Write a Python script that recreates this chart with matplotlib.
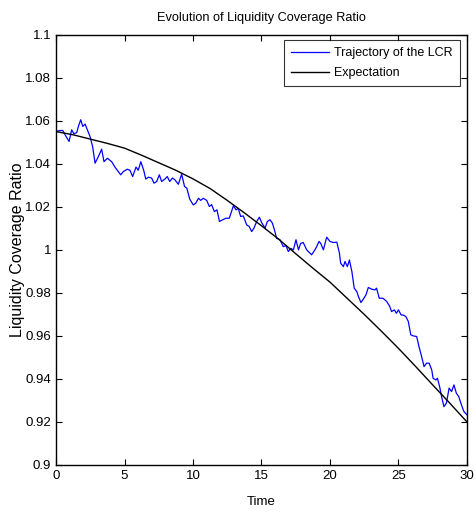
import matplotlib
matplotlib.use("Agg")
import matplotlib.pyplot as plt
from matplotlib.ticker import FuncFormatter

# simulated LCR trajectory
t_traj = [0.00, 0.25, 0.49, 0.66, 0.95, 1.14, 1.30, 1.51, 1.63, 1.80, 1.95, 2.12,
          2.29, 2.48, 2.67, 2.85, 3.09, 3.33, 3.50, 3.75, 4.06, 4.30, 4.55, 4.72,
          4.91, 5.20, 5.40, 5.59, 5.84, 6.00, 6.19, 6.40, 6.55, 6.74, 6.98, 7.15,
          7.35, 7.54, 7.71, 7.96, 8.12, 8.30, 8.50, 8.67, 8.93, 9.17, 9.38, 9.55,
          9.76, 10.02, 10.20, 10.40, 10.56, 10.75, 11.00, 11.19, 11.36, 11.56,
          11.75, 11.93, 12.17, 12.40, 12.65, 12.77, 12.95, 13.14, 13.30, 13.48,
          13.67, 13.92, 14.10, 14.28, 14.45, 14.65, 14.85, 15.00, 15.26, 15.43,
          15.62, 15.80, 15.98, 16.10, 16.35, 16.59, 16.79, 16.96, 17.13, 17.33,
          17.52, 17.70, 17.86, 18.05, 18.30, 18.54, 18.66, 18.90, 19.03, 19.20,
          19.32, 19.52, 19.76, 20.00, 20.25, 20.50, 20.69, 20.78, 20.98, 21.10,
          21.27, 21.42, 21.60, 21.77, 21.96, 22.08, 22.26, 22.48, 22.63, 22.80,
          23.05, 23.30, 23.40, 23.60, 23.87, 24.14, 24.35, 24.50, 24.70, 24.85,
          25.00, 25.20, 25.35, 25.54, 25.72, 25.90, 26.08, 26.33, 26.50, 26.69,
          26.87, 27.05, 27.24, 27.43, 27.53, 27.73, 27.85, 28.03, 28.15, 28.32,
          28.50, 28.70, 28.88, 29.05, 29.23, 29.40, 29.60, 29.78, 30.00]
lcr_traj = [1.0550, 1.0555, 1.0555, 1.0535, 1.0504, 1.0558, 1.0540, 1.0545, 1.0574,
            1.0605, 1.0574, 1.0585, 1.0558, 1.0527, 1.0480, 1.0403, 1.0434, 1.0468,
            1.0410, 1.0426, 1.0410, 1.0385, 1.0364, 1.0349, 1.0364, 1.0375, 1.0370,
            1.0341, 1.0385, 1.0370, 1.0410, 1.0370, 1.0329, 1.0338, 1.0334, 1.0310,
            1.0318, 1.0349, 1.0318, 1.0330, 1.0341, 1.0318, 1.0334, 1.0326, 1.0305,
            1.0352, 1.0295, 1.0287, 1.0236, 1.0209, 1.0217, 1.0240, 1.0230, 1.0240,
            1.0230, 1.0202, 1.0210, 1.0178, 1.0186, 1.0132, 1.0140, 1.0147, 1.0147,
            1.0170, 1.0205, 1.0186, 1.0193, 1.0155, 1.0158, 1.0116, 1.0109, 1.0085,
            1.0101, 1.0132, 1.0152, 1.0128, 1.0101, 1.0132, 1.0140, 1.0124, 1.0085,
            1.0054, 1.0047, 1.0015, 1.0020, 0.9992, 1.0007, 1.0000, 1.0047, 1.0000,
            1.0030, 1.0034, 1.0000, 0.9985, 0.9977, 1.0000, 1.0015, 1.0039, 1.0031,
            1.0000, 1.0059, 1.0039, 1.0034, 1.0036, 0.9985, 0.9938, 0.9922, 0.9946,
            0.9922, 0.9953, 0.9899, 0.9822, 0.9806, 0.9783, 0.9755, 0.9775, 0.9791,
            0.9825, 0.9817, 0.9814, 0.9822, 0.9775, 0.9775, 0.9760, 0.9739, 0.9713,
            0.9721, 0.9705, 0.9721, 0.9697, 0.9697, 0.9690, 0.9667, 0.9605, 0.9600,
            0.9597, 0.9550, 0.9504, 0.9457, 0.9473, 0.9473, 0.9442, 0.9403, 0.9395,
            0.9403, 0.9357, 0.9318, 0.9271, 0.9287, 0.9357, 0.9341, 0.9372, 0.9333,
            0.9318, 0.9279, 0.9248, 0.9233]

# expected LCR path
t_exp = [0, 1.25, 2.5, 3.75, 5, 6.25, 7.5, 8.75, 10, 11.25, 12.5, 13.75, 15,
         16.25, 17.5, 18.75, 20, 21.25, 22.5, 23.75, 25, 26.25, 27.5, 28.75, 30]
lcr_exp = [1.0550, 1.0535, 1.0515, 1.0495, 1.0473, 1.0440, 1.0405, 1.0370, 1.0330,
           1.0285, 1.0230, 1.0172, 1.0112, 1.0050, 0.9982, 0.9915, 0.9850, 0.9775,
           0.9700, 0.9622, 0.9542, 0.9458, 0.9372, 0.9287, 0.9200]

plt.rcParams["font.family"] = ["Liberation Sans", "DejaVu Sans"]

fig = plt.figure(figsize=(4.75, 5.12), dpi=100)
ax = fig.add_axes([0.118, 0.092, 0.865, 0.840])

ax.plot(t_traj, lcr_traj, color="#0000ff", linewidth=0.9, label="Trajectory of the LCR")
ax.plot(t_exp, lcr_exp, color="black", linewidth=1.0, label="Expectation")

ax.set_xlim(0, 30)
ax.set_ylim(0.9, 1.1)
ax.set_xticks([0, 5, 10, 15, 20, 25, 30])
ax.set_yticks([0.9, 0.92, 0.94, 0.96, 0.98, 1.0, 1.02, 1.04, 1.06, 1.08, 1.1])
ax.yaxis.set_major_formatter(FuncFormatter(lambda v, p: "%g" % round(v, 2)))
ax.tick_params(direction="in", length=4, width=0.8, top=True, right=True,
               labelsize=9.5, pad=3.5)
for s in ax.spines.values():
    s.set_linewidth(1.0)

ax.set_title("Evolution of Liquidity Coverage Ratio", fontsize=9.2, pad=10)
ax.set_xlabel("Time", fontsize=9.5, labelpad=10)
ax.set_ylabel("Liquidity Coverage Ratio", fontsize=11.5, labelpad=0.5)

leg = ax.legend(loc="upper right", bbox_to_anchor=(0.983, 0.988), borderaxespad=0,
                fontsize=9, frameon=True, fancybox=False, borderpad=0.6,
                handlelength=3.0, handletextpad=0.4, labelspacing=0.6)
leg.get_frame().set_edgecolor("black")
leg.get_frame().set_linewidth(0.8)

fig.savefig("out.png", dpi=100)
